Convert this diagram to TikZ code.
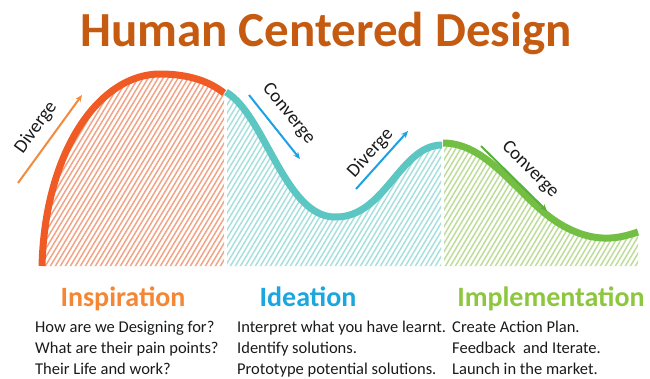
\documentclass[tikz,border=0pt]{standalone}
\usepackage{fontspec}
\setmainfont{Carlito}
\usetikzlibrary{arrows.meta}
\definecolor{titleC}{HTML}{C55A11}
\definecolor{inspC}{HTML}{F58634}
\definecolor{ideaC}{HTML}{1AA7E0}
\definecolor{implC}{HTML}{8DC63F}
\definecolor{orCurve}{HTML}{F05A24}
\definecolor{orHatch}{HTML}{F2A488}
\definecolor{tlCurve}{HTML}{5CC6C3}
\definecolor{tlHatch}{HTML}{A8E0DE}
\definecolor{grCurve}{HTML}{72BF44}
\definecolor{grHatch}{HTML}{BEDD9A}
\definecolor{orArrow}{HTML}{F28B3C}
\definecolor{blArrow}{HTML}{1DA1E6}
\definecolor{grArrow}{HTML}{5AAE3C}
\definecolor{labC}{HTML}{1A1A1A}
\begin{document}
\begin{tikzpicture}[x=1pt,y=-1pt,
  curve/.style={line width=7pt,line cap=butt},
  hatch/.style={line width=1.5pt},
  flowarrow/.style={line width=2pt,-{Stealth[length=7pt,width=6pt]}},
  phaselabel/.style={font=\fontsize{19}{19}\selectfont,text=labC,inner sep=0pt},
  heading/.style={font=\fontsize{28}{28}\selectfont\bfseries,anchor=base,inner sep=0pt},
  bodyline/.style={font=\fontsize{16.5}{20}\selectfont,text=labC,anchor=base west,inner sep=0pt}]
\useasboundingbox (0,0) rectangle (650,378);

% title
\node[font=\fontsize{49}{49}\selectfont\bfseries,text=titleC,anchor=base,inner sep=0pt] (title) at (326,46) {Human Centered Design};

% hatched areas under the three curves
\begin{scope}
  \clip (42,266) .. controls (45,150) and (100,74) .. (160,74) .. controls (190,74) and (210,82) .. (224,93) -- (224,266) -- cycle;
  \foreach \i in {-130,-125,...,240} \draw[hatch,orHatch] (\i,275) -- ++(132,-220);
\end{scope}
\begin{scope}
  \clip (227,266) -- (227,93) .. controls (265,115) and (285,217) .. (335,217) .. controls (385,218) and (400,145) .. (441,145) -- (441,266) -- cycle;
  \foreach \i in {80,85,...,450} \draw[hatch,tlHatch] (\i,275) -- ++(132,-220);
\end{scope}
\begin{scope}
  \clip (444,266) -- (444,143) .. controls (490,143) and (520,200) .. (560,224) .. controls (595,245) and (620,238) .. (638,232) -- (638,266) -- cycle;
  \foreach \i in {300,305,...,650} \draw[hatch,grHatch] (\i,275) -- ++(132,-220);
\end{scope}

% curves
\draw[curve,orCurve] (42,266) .. controls (45,150) and (100,74) .. (160,74) .. controls (190,74) and (210,82) .. (224,93);
\draw[curve,tlCurve] (226,92) .. controls (265,115) and (285,217) .. (335,217) .. controls (385,218) and (400,145) .. (442,145);
\draw[curve,grCurve] (443,143) .. controls (490,143) and (520,200) .. (560,224) .. controls (595,245) and (620,238) .. (638,232);

% diverge / converge arrows
\coordinate (a1s) at (18,183); \coordinate (a1e) at (82,95);
\coordinate (a2s) at (249,95); \coordinate (a2e) at (300,159);
\coordinate (a3s) at (356,189); \coordinate (a3e) at (408,131);
\coordinate (a4s) at (481,146); \coordinate (a4e) at (547,211);
\draw[flowarrow,orArrow] (a1s) -- (a1e);
\draw[flowarrow,blArrow] (a2s) -- (a2e);
\draw[flowarrow,blArrow] (a3s) -- (a3e);
\draw[flowarrow,grArrow] (a4s) -- (a4e);
\node[phaselabel,rotate=54] (l1) at (36,127.5) {Diverge};
\node[phaselabel,rotate=-51] (l2) at (288.5,114) {Converge};
\node[phaselabel,rotate=48] (l3) at (370.5,153) {Diverge};
\node[phaselabel,rotate=-45] (l4) at (530,169.5) {Converge};

% phase headings
\node[heading,text=inspC] (h1) at (123,306) {Inspiration};
\node[heading,text=ideaC] (h2) at (308,306) {Ideation};
\node[heading,text=implC] (h3) at (551,306) {Implementation};

% phase descriptions
\node[bodyline] (b11) at (35,332) {How are we Designing for?};
\node[bodyline] (b12) at (35,353) {What are their pain points?};
\node[bodyline] (b13) at (35,374) {Their Life and work?};
\node[bodyline] (b21) at (237,332) {Interpret what you have learnt.};
\node[bodyline] (b22) at (237,353) {Identify solutions.};
\node[bodyline] (b23) at (237,374) {Prototype potential solutions.};
\node[bodyline] (b31) at (452,332) {Create Action Plan.};
\node[bodyline] (b32) at (452,353) {Feedback\ \ and Iterate.};
\node[bodyline] (b33) at (452,374) {Launch in the market.};
\end{tikzpicture}
\end{document}
